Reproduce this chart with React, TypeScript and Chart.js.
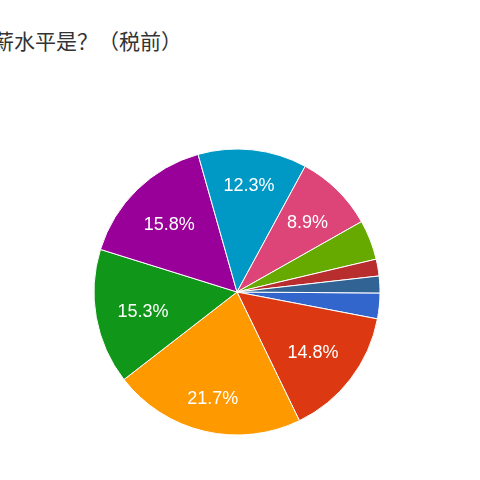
import { useEffect, useRef } from "react";
import { Chart, registerables } from "chart.js";

Chart.register(...registerables);

// slice order follows the colour palette, clockwise from the blue slice
const categories = ["1", "2", "3", "4", "5", "6", "7", "8", "9", "10"];
const shares = [2.9, 14.8, 21.7, 15.3, 15.8, 12.3, 8.9, 4.5, 1.9, 1.9];
const colors = [
  "#3366cc",
  "#dc3912",
  "#ff9900",
  "#109618",
  "#990099",
  "#0099c6",
  "#dd4477",
  "#66aa00",
  "#b82e2e",
  "#316395",
];
const title = "薪水平是？（税前）";

// labels sit inside the slice so their box stays a fixed distance from the centre
const sliceLabels = {
  id: "sliceLabels",
  afterDatasetsDraw(chart: Chart) {
    const ctx = chart.ctx;
    const meta = chart.getDatasetMeta(0);
    ctx.save();
    ctx.fillStyle = "#ffffff";
    ctx.font = "18px 'Liberation Sans', Arial, sans-serif";
    ctx.textAlign = "center";
    ctx.textBaseline = "middle";
    meta.data.forEach((arc: any, i: number) => {
      const v = shares[i];
      if (v < 5) return;
      const text = v.toFixed(1) + "%";
      const { x, y, startAngle, endAngle } = arc.getProps(
        ["x", "y", "startAngle", "endAngle"],
        true
      );
      const mid = (startAngle + endAngle) / 2;
      const hw = ctx.measureText(text).width / 2;
      const hh = 10.5;
      const r = 122.5 - (Math.abs(Math.cos(mid)) * hw + Math.abs(Math.sin(mid)) * hh);
      ctx.fillText(text, x + Math.cos(mid) * r, y + Math.sin(mid) * r + 3);
    });
    ctx.restore();
  },
};

export default function App() {
  const chartRef = useRef<HTMLCanvasElement | null>(null);
  const chartInstance = useRef<Chart | null>(null);

  useEffect(() => {
    if (!chartRef.current) return;
    if (chartInstance.current) chartInstance.current.destroy();
    const ctx = chartRef.current.getContext("2d");
    if (!ctx) return;

    chartInstance.current = new Chart(ctx, {
      type: "pie",
      data: {
        labels: categories,
        datasets: [
          {
            data: shares,
            backgroundColor: colors,
            borderColor: "#ffffff",
            borderWidth: 1,
          },
        ],
      },
      options: {
        animation: false,
        responsive: true,
        maintainAspectRatio: false,
        rotation: 90.4,
        radius: 143,
        layout: { padding: { left: 90, right: 96, top: 140, bottom: 36 } },
        plugins: {
          legend: { display: false },
          tooltip: { enabled: false },
        },
      },
      plugins: [sliceLabels],
    });

    return () => {
      if (chartInstance.current) {
        chartInstance.current.destroy();
        chartInstance.current = null;
      }
    };
  }, []);

  return (
    <div
      style={{
        position: "fixed",
        left: 0,
        top: 0,
        width: 480,
        height: 480,
        background: "#ffffff",
        overflow: "hidden",
      }}
    >
      <div
        style={{
          position: "absolute",
          left: -7,
          top: 25,
          fontFamily: "'Noto Sans CJK SC', sans-serif",
          fontSize: 21,
          lineHeight: "30px",
          color: "#333333",
          whiteSpace: "nowrap",
        }}
      >
        {title}
      </div>
      <canvas ref={chartRef} style={{ position: "absolute", left: 0, top: 0 }} />
    </div>
  );
}
